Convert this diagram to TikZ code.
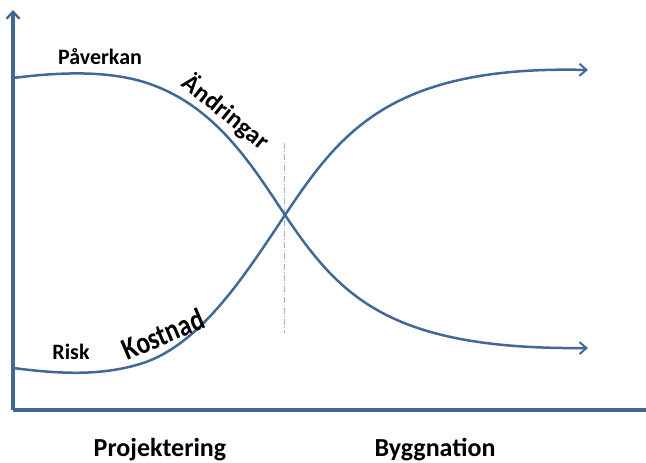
\documentclass[tikz,border=0pt]{standalone}
\usepackage{fontspec}
\setmainfont{Carlito}
\usetikzlibrary{arrows.meta}
\definecolor{curveblue}{RGB}{66,104,152}
\definecolor{guideblue}{RGB}{150,180,215}
\begin{document}
\begin{tikzpicture}[x=1pt,y=-1pt,
  axisline/.style={curveblue,line width=3.2pt},
  curveline/.style={curveblue,line width=2.5pt,-{Straight Barb[length=7pt,width=12pt,line width=2pt]}},
  guide/.style={guideblue,line width=0.9pt,dash pattern=on 6pt off 2pt on 1pt off 2pt},
  lbl/.style={text=black,inner sep=0pt}]
\useasboundingbox (0,0) rectangle (646,463);
% axes
\coordinate (origin) at (13,410);
\coordinate (ytop) at (13,10);
\coordinate (xend) at (646,410);
\draw[axisline,-{Straight Barb[length=7pt,width=13pt,line width=2.4pt]}] (origin) -- (ytop);
\draw[axisline] (origin) -- (xend);
% phase boundary
\coordinate (gtop) at (284,143);
\coordinate (gbot) at (284,333);
\draw[guide] (gtop) -- (gbot);
% curves crossing in the middle
\coordinate (p0) at (13,78);
\coordinate (cross) at (285,215);
\coordinate (p1) at (588,348);
\coordinate (r0) at (13,368);
\coordinate (r1) at (588,70);
\draw[curveline] (p0) .. controls (60,72) and (110,70) .. (150,84)
  .. controls (215,107) and (250,162) .. (cross)
  .. controls (340,297) and (390,350) .. (p1);
\draw[curveline] (r0) .. controls (60,374) and (100,376) .. (140,364)
  .. controls (200,346) and (245,275) .. (cross)
  .. controls (340,133) and (390,65) .. (r1);
% labels
\node[lbl,font=\bfseries\fontsize{22}{26}\selectfont] (paverkan) at (100,57) {Påverkan};
\node[lbl,font=\bfseries\fontsize{25}{30}\selectfont,rotate=-39] (andringar) at (226,112) {Ändringar};
\node[lbl,font=\bfseries\fontsize{22}{26}\selectfont] (risk) at (71,352) {Risk};
\node[lbl,font=\bfseries\fontsize{31}{36}\selectfont,rotate=23,xscale=0.82] (kostnad) at (163,334) {Kostnad};
\node[lbl,font=\bfseries\fontsize{26}{30}\selectfont] (proj) at (160,450) {Projektering};
\node[lbl,font=\bfseries\fontsize{26}{30}\selectfont] (bygg) at (435,450) {Byggnation};
\end{tikzpicture}
\end{document}
